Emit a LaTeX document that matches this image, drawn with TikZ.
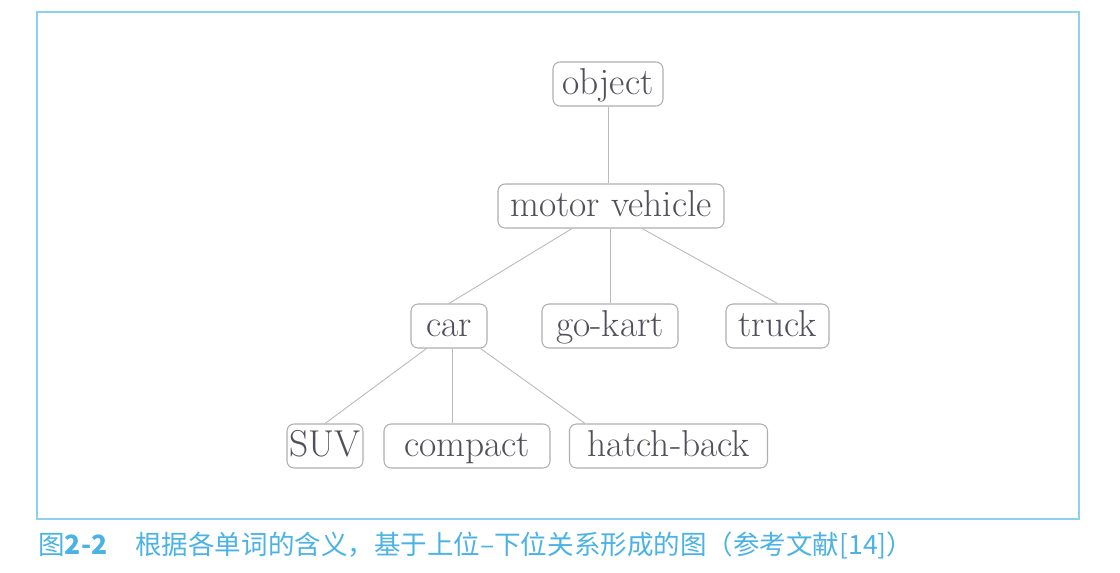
\documentclass[tikz,border=0pt]{standalone}
\usepackage{fontspec}
\usepackage{xcolor}
\usepackage{tikz}
\usetikzlibrary{positioning,calc}
\newfontfamily\cjk{Noto Sans CJK SC}
\definecolor{framblue}{RGB}{140,210,240}
\definecolor{capblue}{RGB}{75,178,228}
\definecolor{boxgray}{RGB}{175,175,175}
\definecolor{linegray}{RGB}{185,185,185}
\definecolor{txtgray}{RGB}{80,80,90}
\tikzset{
  word/.style ={rectangle, rounded corners=4pt, draw=boxgray, fill=white, line width=0.6pt,
                text=txtgray, font=\fontsize{21.3}{25}\selectfont, align=center,
                inner xsep=1pt, inner ysep=0pt, minimum height=0.88cm,
                text height=0.42cm, text depth=0pt},
  isa/.style  ={draw=linegray, line width=0.5pt},
  captext/.style ={anchor=west, inner sep=0pt, text=capblue, font=\cjk\fontsize{15.1}{18}\selectfont},
}
\begin{document}
\begin{tikzpicture}[x=0.02cm, y=-0.02cm]
\useasboundingbox (0,0) rectangle (1120,572);
% frame
\draw[framblue, line width=1.1pt] (37,12) rectangle (1079,519);

% hierarchy
\node[word, minimum width=2.2cm]  (object)  at (608,84)   {object};
\node[word, minimum width=4.52cm] (vehicle) at (611,206)  {motor vehicle};
\node[word, minimum width=1.52cm] (car)     at (449,326)  {car};
\node[word, minimum width=2.72cm] (gokart)  at (610,326)  {go-kart};
\node[word, minimum width=2.06cm] (truck)   at (777.5,326) {truck};
\node[word, minimum width=1.52cm] (suv)     at (325,446)  {SUV};
\node[word, minimum width=3.32cm] (compact) at (467,446)  {compact};
\node[word, minimum width=3.96cm] (hatch)   at (668.5,446) {hatch-back};

% is-a links
\draw[isa] (object.south) -- (object.south |- vehicle.north);
\draw[isa] ([xshift=-0.78cm]vehicle.south) -- (car.north);
\draw[isa] (gokart.north |- vehicle.south) -- (gokart.north);
\draw[isa] ([xshift=0.62cm]vehicle.south) -- (truck.north);
\draw[isa] ([xshift=-0.45cm]car.south) -- (suv.north);
\draw[isa] ([xshift=0.06cm]car.south) -- ([xshift=0.06cm]car.south |- compact.north);
\draw[isa] ([xshift=0.63cm]car.south) -- ([xshift=-1.67cm]hatch.north);

% caption
\node[captext] (capnum) at (38,545) {图\textbf{2-2}};
\node[captext] (captxt) at (135,545) {根据各单词的含义，基于上位–下位关系形成的图（参考文献[14]）};
\end{tikzpicture}
\end{document}
